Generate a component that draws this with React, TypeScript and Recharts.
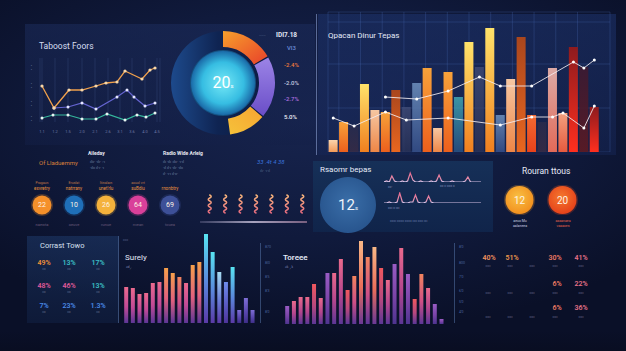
import {
  LineChart,
  Line,
  XAxis,
  YAxis,
  CartesianGrid,
  PieChart,
  Pie,
  Cell,
  ComposedChart,
  Bar,
  BarChart,
  ScatterChart,
  Scatter,
} from "recharts"

// top-left trend lines (x in chart units, y in chart units)
const trendTicks = [2, 15, 28, 42, 55, 68, 80, 92, 105, 117]
const trendTickLabels = ["1.1", "1.2", "1.5", "2.0", "2.1", "2.6", "3.1", "3.6", "4.0", "4.5"]
const trendLeftTicks = [3, 18, 36, 54]
const trendRightTicks = [7, 20, 40, 61]
const amberX = [2, 14, 29, 42, 56, 66, 77, 85, 102, 110, 115]
const amberY = [36, 14, 32, 32, 36, 39, 40, 51, 43, 52, 54]
const violetX = [14, 28, 42, 56, 77, 87, 94, 105, 115]
const violetY = [14, 15, 19, 13, 25, 32, 25, 16, 19]
const tealX = [2, 13, 28, 42, 56, 67, 85, 97, 106, 115]
const tealY = [4, 7, 7, 3, 3, 8, 2, 7, 5, 9]

// donut
const ringNames = ["Reach", "Share", "Growth", "Rest"]
const ringShares = [60, 70, 42, 188]
const donutNotes = ["IDI7.18", "VI3", "2.4%", "2.0%", "2.7%", "5.0%"]

// top-right bars + lines
const castValues = [12, 30, 26, 68, 42, 40, 62, 45, 69, 84, 24, 80, 55, 110, 85, 124, 37, 73, 115, 37, 30, 84, 39, 105, 85, 45, 0]
const castKinds = ["pale", "amber", "dim", "gold", "peach", "amber", "rust", "dusk", "steel", "amber", "peach", "amber", "teal", "gold", "dusk", "gold", "steel", "peach", "rust", "ember", "dim", "rose", "salmon", "crimson", "wine", "crimson", "dim"]
const castUpper = [null, null, null, null, null, 55, null, null, 53, null, null, 61, null, null, 75, null, 66, null, null, 66, null, null, null, 90, 84, 92, null]
const castLower = [34, null, 26, null, null, 40, null, 32, null, null, null, 34, null, null, null, null, 27, null, null, 35, null, 35, 39, null, 24, 46, null]
const castGridY = [22, 44, 66, 88, 110, 130]
const castGridX = [1, 3, 5, 7, 9, 11, 13, 15, 17, 19, 21, 23, 25, 27]

// middle badges
const badgeValues = ["22", "10", "26", "64", "69"]
const badgeHeads = ["Pragaun", "Eruslat", "Itinalaın", "aouol vrt", ""]
const badgeTitles = ["exvretry", "natrrany", "unet'rlu", "suBdiu", "rnonbtry"]
const badgeFoots = ["naewta", "oeuve", "runue", "nvean", "tcuea"]
const squiggleIds = ["a", "b", "c", "d", "e", "f", "g"]

// sparklines
const sparkTop = [0, 1, 0, 6, 1, 0, 0, 1, 0, 1, 9, 2, 0, 0, 1, 0, 0, 0, 1, 0, 1, 7, 1, 0, 0, 0, 1, 0, 0, 0, 0, 1, 5, 0, 0, 0, 0, 0]
const sparkLow = [0, 0, 1, 0, 0, 1, 10, 1, 0, 0, 1, 1, 8, 1, 0, 0, 1, 7, 1, 0, 0, 0, 0, 0, 0, 0, 0, 0, 0, 0, 0, 0, 0, 0, 0, 0, 0, 0]
const rouranValues = ["12", "20"]

// bottom-left grid
const mixRowA = ["49%", "13%", "17%"]
const mixRowB = ["48%", "46%", "13%"]
const mixRowC = ["7%", "23%", "1.3%"]

// surely bars
const surelyValues = [36, 35, 29, 30, 40, 41, 55, 50, 46, 40, 58, 61, 89, 71, 51, 41, 56, 13, 25, 13]
const surelyKinds = ["pink", "pink", "pink", "pink", "pink", "pink", "orange", "orange", "coral", "pink", "orange", "orange", "cyan", "cyan", "ice", "blue", "cyan", "violet", "violet", "violet"]

// toree bars
const toreeValues = [18, 23, 27, 27, 40, 26, 51, 51, 65, 34, 48, 83, 67, 77, 56, 44, 60, 76, 50, 25, 50, 36, 20, 5]
const toreeKinds = ["plum", "rose", "rose", "rose", "red", "rose", "plum", "rose", "rose", "red", "coral", "peach", "coral", "peach", "red", "rose", "plum", "rose", "plum", "red", "coral", "rose", "plum", "plum"]
const toreeTicks = ["870", "8I0", "8'5", "8'3", "8'0"]

// bottom-right tallies
const tallyRowA = ["40%", "51%", "30%", "41%"]
const tallyRowB = ["6%", "22%"]
const tallyRowC = ["6%", "36%"]
const tallyTicks = ["8'0", "800", "7'0", "6'0", "5'0", "4'0"]

const castTones: Record<string, [string, string, number]> = {
  gold: ["#ffe36a", "#f07f1f", 1],
  amber: ["#f7a23a", "#ec5f1c", 1],
  pale: ["#f9d4ae", "#f39a58", 1],
  peach: ["#f6c7a2", "#ee8646", 1],
  rust: ["#a9461d", "#e8661f", 1],
  dusk: ["#46507a", "#2c3458", 0.7],
  steel: ["#6f92c0", "#36508a", 0.85],
  teal: ["#49c3c8", "#2b5a8e", 0.7],
  ember: ["#f26a32", "#e8421b", 1],
  rose: ["#dcaaa6", "#e26a58", 1],
  salmon: ["#f3a07e", "#e65a3e", 1],
  crimson: ["#8e1b1e", "#ff2f1e", 1],
  wine: ["#3e1a30", "#5e1a22", 0.9],
  dim: ["#2a2c4c", "#3a2c44", 0.8],
}

const lowTones: Record<string, string[]> = {
  pink: ["#ec6a8e", "#c24a96", "#5c3696"],
  orange: ["#f7a04a", "#e0607e", "#5c3696"],
  coral: ["#f2845e", "#cf4f86", "#5c3696"],
  cyan: ["#58e4f2", "#5a86dc", "#5a3aa6"],
  ice: ["#a6dcf2", "#6c7ed8", "#5a3aa6"],
  blue: ["#6e8cec", "#5a5ac4", "#4e349a"],
  violet: ["#7e6ed6", "#5a48b0", "#3e2e88"],
  rose: ["#ea6a8c", "#b4468e", "#5c3696"],
  red: ["#f0585e", "#b8487e", "#5c3696"],
  peach: ["#f9b886", "#ea6e5a", "#6a3896"],
  plum: ["#9a5cc4", "#7a44a8", "#4e3490"],
}

const badgeFills = ["#f5902a", "#1f6fb8", "#f4b23c", "#d9409a", "#3d5098"]
const ringFills = ["url(#ringOrange)", "url(#ringViolet)", "url(#ringAmber)", "rgba(0,0,0,0)"]
const noteColors = ["#e2e7f5", "#6a8ad8", "#f07a3a", "#c8cce0", "#b070e0", "#f0f2fa"]
const mixColors = [
  ["#f0903a", "#3cc0c8", "#3cc0c8"],
  ["#e05a9a", "#e05a9a", "#3cc0c8"],
  ["#4a8ae8", "#4a8ae8", "#4a8ae8"],
]

const Txt = ({ x, y, s = 6, c = "#dfe5f5", w = 400, a = "left", children, st }: any) => (
  <div
    style={{
      position: "absolute",
      left: x,
      top: y - s * 0.6,
      fontSize: s,
      color: c,
      fontWeight: w,
      whiteSpace: "nowrap",
      lineHeight: 1.2,
      transform: a === "center" ? "translateX(-50%)" : undefined,
      ...st,
    }}
  >
    {children}
  </div>
)

const Box = ({ x, y, w, h, bg, st }: any) => (
  <div style={{ position: "absolute", left: x, top: y, width: w, height: h, background: bg, ...st }} />
)

function TrendLines() {
  const amber = amberX.map((x, i) => ({ x, y: amberY[i] }))
  const violet = violetX.map((x, i) => ({ x, y: violetY[i] }))
  const teal = tealX.map((x, i) => ({ x, y: tealY[i] }))
  const tick = { fontSize: 4, fill: "#6d7aa6" }
  return (
    <div style={{ position: "absolute", left: 25, top: 52 }}>
      <LineChart width={150} height={82} margin={{ top: 6, right: 5, bottom: 2, left: 5 }}>
        <CartesianGrid vertical horizontal={false} stroke="#2c3c6c" strokeOpacity={0.6} />
        <XAxis
          type="number"
          dataKey="x"
          domain={[0, 120]}
          ticks={trendTicks}
          tickFormatter={(_v: number, i: number) => trendTickLabels[i]}
          height={10}
          tick={tick}
          tickLine={false}
          axisLine={false}
          interval={0}
        />
        <YAxis yAxisId="l" type="number" domain={[0, 64]} ticks={trendLeftTicks} width={10} tick={tick} tickLine={false} axisLine={false} tickFormatter={() => "• •"} />
        <YAxis yAxisId="r" orientation="right" type="number" domain={[0, 64]} ticks={trendRightTicks} width={10} tick={tick} tickLine={false} axisLine={false} tickFormatter={() => "·"} />
        <Line yAxisId="l" data={teal} dataKey="y" stroke="#35b79c" strokeWidth={1.2} dot={{ r: 1.5, fill: "#e8f4f2", stroke: "none" }} isAnimationActive={false} />
        <Line yAxisId="l" data={violet} dataKey="y" stroke="#6464d0" strokeWidth={1.2} dot={{ r: 1.5, fill: "#e4e6ff", stroke: "none" }} isAnimationActive={false} />
        <Line yAxisId="l" data={amber} dataKey="y" stroke="#f0a04c" strokeWidth={1.3} dot={{ r: 1.6, fill: "#f7d6a8", stroke: "none" }} isAnimationActive={false} />
      </LineChart>
    </div>
  )
}

function Donut() {
  const ring = ringNames.map((name, i) => ({ name, v: ringShares[i] }))
  return (
    <div style={{ position: "absolute", left: 163, top: 23 }}>
      <PieChart width={120} height={120} margin={{ top: 0, right: 0, bottom: 0, left: 0 }}>
        <defs>
          <radialGradient id="discGrad" cx="50%" cy="50%" r="50%">
            <stop offset="0%" stopColor="#74e8f6" />
            <stop offset="65%" stopColor="#36bde2" />
            <stop offset="100%" stopColor="#1a6aa8" />
          </radialGradient>
          <linearGradient id="ringBase" x1="0" y1="0" x2="1" y2="0">
            <stop offset="0%" stopColor="#1d4a8c" />
            <stop offset="45%" stopColor="#0f2452" />
            <stop offset="100%" stopColor="#0c1a40" />
          </linearGradient>
          <linearGradient id="ringOrange" x1="0" y1="0" x2="1" y2="1">
            <stop offset="0%" stopColor="#f7a02c" />
            <stop offset="100%" stopColor="#e8402a" />
          </linearGradient>
          <linearGradient id="ringViolet" x1="0" y1="0" x2="0" y2="1">
            <stop offset="0%" stopColor="#9c84e6" />
            <stop offset="100%" stopColor="#6a4ec8" />
          </linearGradient>
          <linearGradient id="ringAmber" x1="1" y1="0" x2="0" y2="1">
            <stop offset="0%" stopColor="#f7a432" />
            <stop offset="100%" stopColor="#f5c23a" />
          </linearGradient>
        </defs>
        <Pie data={[{ v: 1 }]} dataKey="v" cx={60} cy={60} innerRadius={31} outerRadius={52} fill="url(#ringBase)" stroke="none" isAnimationActive={false} />
        <Pie data={ring} dataKey="v" cx={60} cy={60} startAngle={90} endAngle={-270} innerRadius={36} outerRadius={52} paddingAngle={1.5} stroke="none" isAnimationActive={false}>
          {ring.map((r, i) => (
            <Cell key={r.name} fill={ringFills[i]} />
          ))}
        </Pie>
        <Pie data={[{ v: 1 }]} dataKey="v" cx={60} cy={60} outerRadius={33} fill="#15507e" stroke="none" isAnimationActive={false} />
        <Pie data={[{ v: 1 }]} dataKey="v" cx={60} cy={60} outerRadius={32} fill="url(#discGrad)" stroke="none" isAnimationActive={false} />
      </PieChart>
    </div>
  )
}

function CastChart() {
  const rows = castValues.map((v, i) => ({
    slot: String(i + 1),
    v,
    kind: castKinds[i],
    upper: castUpper[i],
    lower: castLower[i],
  }))
  return (
    <div style={{ position: "absolute", left: 318, top: 10 }}>
      <ComposedChart width={300} height={142} data={rows} margin={{ top: 2, right: 8, bottom: 0, left: 10 }} barCategoryGap="6%">
        <defs>
          {Object.entries(castTones).map(([k, [a, b, o]]) => (
            <linearGradient key={k} id={`cast-${k}`} x1="0" y1="0" x2="0" y2="1">
              <stop offset="0%" stopColor={a} stopOpacity={o} />
              <stop offset="100%" stopColor={b} stopOpacity={o} />
            </linearGradient>
          ))}
        </defs>
        <XAxis dataKey="slot" hide />
        <XAxis xAxisId="grid" type="number" domain={[0, 27]} ticks={castGridX} allowDataOverflow hide />
        <YAxis domain={[0, 140]} ticks={castGridY} hide />
        <CartesianGrid xAxisId="grid" stroke="#4a6ab8" strokeOpacity={0.28} />
        <Bar dataKey="v" isAnimationActive={false}>
          {rows.map((r, i) => (
            <Cell key={i} fill={`url(#cast-${r.kind})`} />
          ))}
        </Bar>
        <Line dataKey="upper" connectNulls stroke="#f3eef2" strokeOpacity={0.85} strokeWidth={1} dot={{ r: 1.5, fill: "#ffffff", stroke: "none" }} isAnimationActive={false} />
        <Line dataKey="lower" connectNulls stroke="#f3eef2" strokeOpacity={0.85} strokeWidth={1} dot={{ r: 1.5, fill: "#ffffff", stroke: "none" }} isAnimationActive={false} />
      </ComposedChart>
    </div>
  )
}

const makeBadge = (r: number, fs: number, fills: string[], heads?: boolean) => (p: any) => {
  const { cx, cy, payload } = p
  return (
    <g>
      <circle cx={cx} cy={cy} r={r + 1.5} fill={fills[payload.i]} opacity={0.25} />
      <circle cx={cx} cy={cy} r={r} fill={fills[payload.i]} />
      <text x={cx} y={cy + fs * 0.35} textAnchor="middle" fontSize={fs} fill="#fff3e4" fontFamily="Roboto, sans-serif">
        {payload.label}
      </text>
      {heads ? (
        <>
          <text x={cx} y={cy - 21} textAnchor="middle" fontSize={3.5} fill="#c07a4a">{payload.head}</text>
          <text x={cx} y={cy - 15} textAnchor="middle" fontSize={4.5} fill="#e8923e">{payload.title}</text>
          <text x={cx} y={cy + 21} textAnchor="middle" fontSize={4} fill="#6a5a7a">{payload.foot}</text>
        </>
      ) : null}
    </g>
  )
}

function Badges() {
  const rows = badgeValues.map((label, i) => ({ i, y: 0.5, label, head: badgeHeads[i], title: badgeTitles[i], foot: badgeFoots[i] }))
  return (
    <div style={{ position: "absolute", left: 26, top: 175 }}>
      <ScatterChart width={160} height={60} margin={{ top: 0, right: 0, bottom: 0, left: 0 }}>
        <XAxis type="number" dataKey="i" domain={[-0.5, 4.5]} hide />
        <YAxis type="number" dataKey="y" domain={[0, 1]} hide />
        <Scatter data={rows} shape={makeBadge(9.5, 7, badgeFills, true)} isAnimationActive={false} />
      </ScatterChart>
    </div>
  )
}

const Squiggle = (p: any) => {
  const { cx, cy } = p
  const d = `M${cx},${cy - 9} q3,1.5 0,3 q-3,1.5 0,3 q3,1.5 0,3 q-3,1.5 0,3 q3,1.5 0,3 q-3,1.5 0,3`
  return <path d={d} fill="none" stroke="url(#squig)" strokeWidth={1.5} strokeLinecap="round" />
}

function Squiggles() {
  const rows = squiggleIds.map((id, i) => ({ i, y: 0.5, id }))
  return (
    <div style={{ position: "absolute", left: 202, top: 193 }}>
      <ScatterChart width={108} height={22} margin={{ top: 0, right: 0, bottom: 0, left: 0 }}>
        <defs>
          <linearGradient id="squig" x1="0" y1="0" x2="0" y2="1">
            <stop offset="0%" stopColor="#f4b37a" />
            <stop offset="100%" stopColor="#e26a7e" />
          </linearGradient>
        </defs>
        <XAxis type="number" dataKey="i" domain={[-0.5, 6.5]} hide />
        <YAxis type="number" dataKey="y" domain={[0, 1]} hide />
        <Scatter data={rows} shape={Squiggle} isAnimationActive={false} />
      </ScatterChart>
    </div>
  )
}

function Spark({ data, left, top, id }: any) {
  const rows = data.map((v: number, i: number) => ({ i, v }))
  return (
    <div style={{ position: "absolute", left, top }}>
      <LineChart width={97} height={11} data={rows} margin={{ top: 1, right: 0, bottom: 0, left: 0 }}>
        <defs>
          <linearGradient id={id} x1="0" y1="0" x2="0" y2="1">
            <stop offset="0%" stopColor="#ea6a8e" />
            <stop offset="75%" stopColor="#e492b0" />
            <stop offset="100%" stopColor="#d4ccf2" />
          </linearGradient>
        </defs>
        <XAxis dataKey="i" hide />
        <YAxis domain={[0, 10]} hide />
        <Line dataKey="v" type="linear" stroke={`url(#${id})`} strokeWidth={1.2} dot={false} isAnimationActive={false} />
      </LineChart>
    </div>
  )
}

function BigDisc() {
  return (
    <div style={{ position: "absolute", left: 318, top: 175 }}>
      <PieChart width={60} height={60} margin={{ top: 0, right: 0, bottom: 0, left: 0 }}>
        <defs>
          <radialGradient id="bigDisc" cx="50%" cy="45%" r="55%">
            <stop offset="0%" stopColor="#3a6ea8" />
            <stop offset="100%" stopColor="#28558e" />
          </radialGradient>
        </defs>
        <Pie data={[{ v: 1 }]} dataKey="v" cx={30} cy={30} outerRadius={28} fill="url(#bigDisc)" stroke="none" isAnimationActive={false} />
      </PieChart>
    </div>
  )
}

function Rouran() {
  const rows = rouranValues.map((label, i) => ({ i, y: 0.5, label }))
  const fills = ["url(#rouA)", "url(#rouB)"]
  return (
    <div style={{ position: "absolute", left: 498, top: 185 }}>
      <ScatterChart width={86} height={30} margin={{ top: 0, right: 0, bottom: 0, left: 0 }}>
        <defs>
          <radialGradient id="rouA" cx="45%" cy="40%" r="60%">
            <stop offset="0%" stopColor="#f9c044" />
            <stop offset="100%" stopColor="#f2901e" />
          </radialGradient>
          <radialGradient id="rouB" cx="45%" cy="40%" r="60%">
            <stop offset="0%" stopColor="#f4782e" />
            <stop offset="100%" stopColor="#e6421a" />
          </radialGradient>
        </defs>
        <XAxis type="number" dataKey="i" domain={[-0.5, 1.5]} hide />
        <YAxis type="number" dataKey="y" domain={[0, 1]} hide />
        <Scatter data={rows} shape={makeBadge(14, 10, fills)} isAnimationActive={false} />
      </ScatterChart>
    </div>
  )
}

function LowBars({ values, kinds, left, top, width, height, prefix, ml }: any) {
  const rows = values.map((v: number, i: number) => ({ k: String(i), v, kind: kinds[i] }))
  return (
    <div style={{ position: "absolute", left, top }}>
      <BarChart width={width} height={height} data={rows} margin={{ top: 0, right: 1, bottom: 0, left: ml }} barCategoryGap="18%">
        <defs>
          {Object.entries(lowTones).map(([k, [a, b, c]]) => (
            <linearGradient key={k} id={`${prefix}-${k}`} x1="0" y1="0" x2="0" y2="1">
              <stop offset="0%" stopColor={a} />
              <stop offset="55%" stopColor={b} />
              <stop offset="100%" stopColor={c} />
            </linearGradient>
          ))}
        </defs>
        <XAxis dataKey="k" hide />
        <YAxis domain={[0, height]} hide />
        <Bar dataKey="v" isAnimationActive={false}>
          {rows.map((r: any, i: number) => (
            <Cell key={i} fill={`url(#${prefix}-${r.kind})`} />
          ))}
        </Bar>
      </BarChart>
    </div>
  )
}

const dim = "#5f6c96"

export default function App() {
  return (
    <div
      style={{
        position: "absolute",
        left: 0,
        top: 0,
        width: 626,
        height: 351,
        overflow: "hidden",
        fontFamily: "Roboto, 'Noto Sans', sans-serif",
        background: "radial-gradient(ellipse 70% 60% at 50% 35%, #17244e 0%, #101a3c 55%, #0a1028 100%)",
      }}
    >
      {/* panels */}
      <Box x={25} y={24} w={290} h={121} bg="linear-gradient(180deg, rgba(28,44,92,0.55), rgba(20,32,72,0.45))" />
      <Box x={318} y={14} w={298} h={141} bg="linear-gradient(180deg, rgba(30,52,110,0.55), rgba(22,38,86,0.5))" />
      <Box x={316} y={14} w={1} h={141} bg="rgba(140,160,210,0.6)" />
      <Box x={313} y={161} w={180} h={71} bg="linear-gradient(180deg, #163058, #10244a)" />
      <Box x={27} y={236} w={91} h={87} bg="linear-gradient(180deg, rgba(30,58,106,0.55), rgba(20,40,80,0.4))" />
      <Box x={118} y={236} w={1} h={87} bg="rgba(110,150,210,0.45)" />
      <Box x={260} y={243} w={1} h={80} bg="rgba(110,150,210,0.4)" />
      <Box x={454} y={243} w={1} h={80} bg="rgba(110,150,210,0.4)" />
      <Box x={200} y={221} w={107} h={1.5} bg="linear-gradient(90deg, rgba(200,190,230,0.2), rgba(230,220,245,0.7), rgba(220,160,190,0.5))" />
      <Box x={0} y={330} w={626} h={21} bg="linear-gradient(180deg, rgba(8,12,30,0), rgba(8,12,30,0.6))" />

      {/* top-left */}
      <Txt x={39} y={46} s={8.5} c="#d5ddf0">Taboost Foors</Txt>
      <TrendLines />
      <Donut />
      <Txt x={223} y={83} s={16} c="#ffffff" a="center">
        20<span style={{ fontSize: 6 }}>s</span>
      </Txt>
      <Txt x={259} y={36} s={4} c={dim}>------</Txt>
      {donutNotes.map((n, i) => (
        <Txt key={n} x={i < 2 ? 276 + i * 11 : 284} y={[36, 48, 65, 83, 99, 117][i]} s={i === 0 ? 6.5 : 6} c={noteColors[i]} w={i === 0 ? 700 : 500}>
          {i >= 2 && i <= 4 ? "-" : ""}
          {n}
        </Txt>
      ))}

      {/* top-right */}
      <CastChart />
      <Txt x={328} y={36} s={8} c="#e3e8f6">Qpacan Dinur Tepas</Txt>

      {/* middle row left */}
      <Txt x={39} y={163} s={6} c="#d8803a">Of Lladuemmy</Txt>
      <Txt x={88} y={153} s={5} c="#e6e8f2" w={700}>Aileday</Txt>
      <Txt x={90} y={162} s={4} c="#7c86a8">ıliı· ·ılı· :·ı</Txt>
      <Txt x={90} y={168} s={4} c="#7c86a8">·ılıı ıl·ı· ·ı</Txt>
      <Txt x={163} y={153} s={5} c="#e6e8f2" w={700}>Radio Wide Arleig</Txt>
      <Txt x={163} y={162} s={4} c="#7c86a8">ılı ·ılı :ılıı· ·ı·ıl</Txt>
      <Txt x={163} y={168} s={4} c="#7c86a8">·ıl ıl·ı ·ılı· ·ılıı</Txt>
      <Txt x={163} y={174} s={4} c="#7c86a8">ıl· ·ı·ı ıl·ıı·</Txt>
      <Txt x={257} y={162} s={6} c="#3a70d8" st={{ fontStyle: "italic" }}>33 .4t 4 38</Txt>
      <Txt x={260} y={171} s={4} c="#5a6a98">ılı· ·ı·ıl</Txt>
      <Badges />
      <Squiggles />

      {/* middle row right */}
      <Txt x={320} y={170} s={8} c="#e6ebf7">Rsaomr bepas</Txt>
      <BigDisc />
      <Txt x={348} y={205} s={15} c="#eef3fb" a="center">
        12<span style={{ fontSize: 6 }}>s</span>
      </Txt>
      <Spark data={sparkTop} left={384} top={171} id="sparkA" />
      <Spark data={sparkLow} left={384} top={192} id="sparkB" />
      <Txt x={388} y={187} s={3.5} c="#8a96c0">ıııı·</Txt>
      <Txt x={440} y={186} s={3.5} c="#8a96c0">ıııı ıı ıııııı ıı</Txt>
      <Txt x={388} y={208} s={3.5} c="#8a96c0">ııııı ıı ıııı</Txt>
      <Txt x={390} y={221} s={3.5} c="#7080b0">ııııııı ıııııııı ıııııııı ııııı ıııııı ıııı</Txt>
      <Txt x={522} y={171} s={8.5} c="#e6ebf7">Rouran ttous</Txt>
      <Rouran />
      <Txt x={520} y={221} s={3.5} c="#c8cce0" a="center">aeuo Mu</Txt>
      <Txt x={520} y={226} s={3.5} c="#c8cce0" a="center">aalaneea</Txt>
      <Txt x={563} y={221} s={3.5} c="#e0604a" a="center">aaaanaea</Txt>
      <Txt x={563} y={226} s={3.5} c="#e0604a" a="center">vaaaoes</Txt>

      {/* bottom-left */}
      <Txt x={40} y={245} s={7.5} c="#d8e0f0">Corrast Towo</Txt>
      {[mixRowA, mixRowB, mixRowC].map((row, r) =>
        row.map((v, c) => (
          <div key={`${r}-${c}`}>
            <Txt x={[44, 69, 98][c]} y={[263, 286, 306][r]} s={7} c={mixColors[r][c]} w={600} a="center">{v}</Txt>
            <Txt x={[44, 69, 98][c]} y={[269, 292, 312][r]} s={3.5} c="#6a7498" a="center">ıııı</Txt>
          </div>
        ))
      )}

      {/* surely */}
      <Txt x={123} y={240} s={3.5} c="#5a6690">ıııııı</Txt>
      <LowBars values={surelyValues} kinds={surelyKinds} left={120} top={230} width={137} height={93} prefix="sur" ml={3} />
      <Txt x={125} y={258} s={8} c="#e3e8f6">Surely</Txt>
      <Txt x={126} y={268} s={4.5} c="#8a96c0">ᵃᵈ⸝</Txt>

      {/* toree */}
      {toreeTicks.map((t, i) => (
        <Txt key={t} x={265} y={[247, 263, 277, 291, 312][i]} s={3.5} c="#4a64a0">{t}</Txt>
      ))}
      <LowBars values={toreeValues} kinds={toreeKinds} left={280} top={235} width={166} height={89} prefix="tor" ml={4} />
      <Txt x={283} y={258} s={8} c="#e3e8f6" w={600}>Toreee</Txt>
      <Txt x={285} y={268} s={4.5} c="#8a96c0">ᵃᵏ ⸝ᵏ</Txt>

      {/* bottom-right */}
      {tallyTicks.map((t, i) => (
        <Txt key={t} x={459} y={[247, 263, 277, 291, 302, 312][i]} s={3.5} c="#4a64a0">{t}</Txt>
      ))}
      {tallyRowA.map((v, i) => (
        <Txt key={v} x={[489, 512, 555, 581][i]} y={258} s={7} c={["#f0905e", "#f0984e", "#f07a64", "#e87288"][i]} w={600} a="center">{v}</Txt>
      ))}
      {tallyRowB.map((v, i) => (
        <Txt key={v} x={[557, 581][i]} y={284} s={7} c={["#f07a64", "#e87288"][i]} w={600} a="center">{v}</Txt>
      ))}
      {tallyRowC.map((v, i) => (
        <Txt key={v} x={[557, 581][i]} y={308} s={7} c={["#f07a64", "#e87288"][i]} w={600} a="center">{v}</Txt>
      ))}
      {[266, 293, 317].map((y) =>
        [488, 510, 532, 555, 581].map((x) => (
          <Txt key={`${x}-${y}`} x={x} y={y} s={3.5} c="#6a6a90" a="center">ıııııı</Txt>
        ))
      )}
    </div>
  )
}
